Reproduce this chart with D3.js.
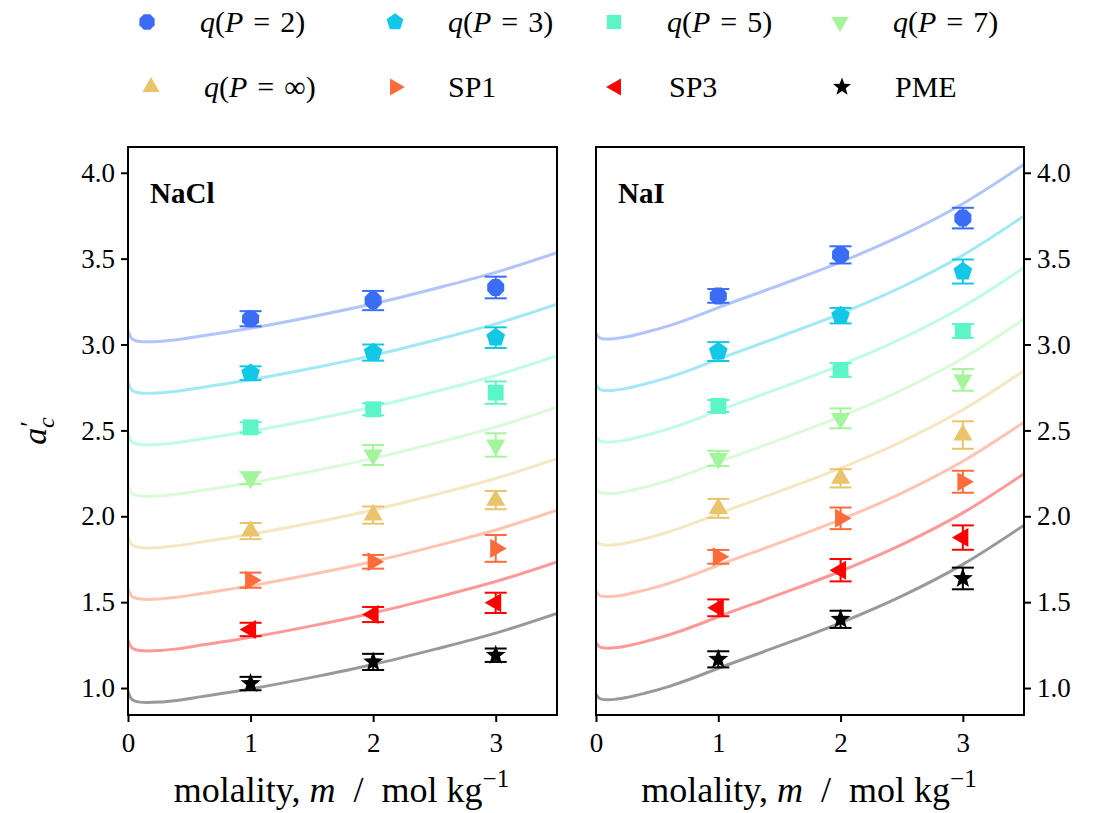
<!DOCTYPE html>
<html>
<head>
<meta charset="utf-8">
<script src="https://cdn.jsdelivr.net/npm/d3@7"></script>
<style>
  body { margin: 0; background: #fff; }
  text { font-family: "Liberation Serif", "DejaVu Serif", serif; fill: #000; }
</style>
</head>
<body>
<script>
//==========================================================//
//  DATA
//==========================================================//

// molalities where the simulated points sit
var molality = [1, 2, 3];

// series names, in legend order
var seriesNames = ["q(P=2)", "q(P=3)", "q(P=5)", "q(P=7)", "q(P=inf)", "SP1", "SP3", "PME"];

// NaCl points (mean, error) per series, at m = 1, 2, 3
var naclMeans = [
    [3.150, 3.256, 3.332],
    [2.833, 2.953, 3.040],
    [2.518, 2.623, 2.720],
    [2.222, 2.357, 2.415],
    [1.914, 2.007, 2.094],
    [1.628, 1.735, 1.813],
    [1.341, 1.428, 1.496],
    [1.026, 1.152, 1.191]
];
var naclErrors = [
    [0.044, 0.056, 0.063],
    [0.040, 0.047, 0.060],
    [0.030, 0.035, 0.065],
    [0.035, 0.058, 0.068],
    [0.047, 0.050, 0.053],
    [0.044, 0.040, 0.078],
    [0.039, 0.044, 0.059],
    [0.039, 0.047, 0.039]
];

// NaI points
var naiMeans = [
    [3.283, 3.522, 3.736],
    [2.959, 3.168, 3.425],
    [2.642, 2.852, 3.079],
    [2.337, 2.570, 2.794],
    [2.046, 2.221, 2.473],
    [1.764, 1.988, 2.201],
    [1.467, 1.686, 1.876],
    [1.167, 1.400, 1.638]
];
var naiErrors = [
    [0.040, 0.050, 0.060],
    [0.055, 0.045, 0.070],
    [0.035, 0.040, 0.040],
    [0.044, 0.058, 0.063],
    [0.055, 0.053, 0.080],
    [0.040, 0.063, 0.064],
    [0.049, 0.065, 0.071],
    [0.047, 0.050, 0.063]
];

// fitted curve (bottom one, PME)
var curveX    = [0, 0.02, 0.05, 0.1, 0.15, 0.25, 0.4, 0.6, 0.8, 1.0, 1.5, 2.0, 2.5, 3.0, 3.5];
var naclCurve = [0.980, 0.945, 0.926, 0.918, 0.916, 0.918, 0.928, 0.950, 0.972, 0.995, 1.062, 1.137, 1.225, 1.320, 1.435];
var naiCurve  = [0.965, 0.945, 0.934, 0.932, 0.934, 0.945, 0.970, 1.010, 1.060, 1.115, 1.245, 1.380, 1.535, 1.720, 1.948];
// each series curve is shifted up by this much
var curveOffsets = [2.1, 1.8, 1.5, 1.2, 0.9, 0.6, 0.3, 0];

var xTicks = [0, 1, 2, 3];
var yTicks = [1.0, 1.5, 2.0, 2.5, 3.0, 3.5, 4.0];

var colors = ["#3b6cf5", "#13c8e6", "#5cf5c8", "#a2f59b", "#e9c46a", "#fd6b3b", "#ff0000", "#000000"];

//==========================================================//
//  SETUP
//==========================================================//

var W = 1094, H = 813;
var plotTop = 147, plotBottom = 715;

var svg = d3.select("body").append("svg")
    .attr("width", W)
    .attr("height", H);

var y = d3.scaleLinear().domain([0.843, 4.15]).range([plotBottom, plotTop]);

// marker shapes
function poly(n, r, rot) {
    var pts = [];
    for (var i = 0; i < n; i++) {
        var a = rot + i * 2 * Math.PI / n;
        pts.push([r * Math.sin(a), -r * Math.cos(a)]);
    }
    return "M" + pts.map(function(p) { return p[0].toFixed(2) + "," + p[1].toFixed(2); }).join("L") + "Z";
}
function star(r) {
    var pts = [];
    for (var i = 0; i < 10; i++) {
        var rr = i % 2 === 0 ? r : r * 0.42;
        var a = i * Math.PI / 5;
        pts.push([rr * Math.sin(a), -rr * Math.cos(a)]);
    }
    return "M" + pts.map(function(p) { return p[0].toFixed(2) + "," + p[1].toFixed(2); }).join("L") + "Z";
}
var shapes = [
    poly(8, 9.2, Math.PI / 8),
    poly(5, 9.8, 0),
    poly(4, 11.2, Math.PI / 4),
    poly(3, 11, Math.PI),
    poly(3, 11, 0),
    poly(3, 11, Math.PI / 2),
    poly(3, 11, -Math.PI / 2),
    star(10.5)
];

//==========================================================//
//  PANELS
//==========================================================//

function drawPanel(x0, x1, label, means, errors, curve, rightAxis) {
    var x = d3.scaleLinear().domain([0, 3.5]).range([x0, x1]);
    var g = svg.append("g");

    var clipId = "clip" + label;
    g.append("clipPath").attr("id", clipId)
        .append("rect").attr("x", x0).attr("y", plotTop).attr("width", x1 - x0).attr("height", plotBottom - plotTop);

    // curves
    var line = d3.line()
        .x(function(d) { return x(d[0]); })
        .y(function(d) { return y(d[1]); })
        .curve(d3.curveMonotoneX);

    curveOffsets.forEach(function(off, i) {
        var pts = curveX.map(function(cx, j) { return [cx, curve[j] + off]; });
        g.append("path")
            .attr("clip-path", "url(#" + clipId + ")")
            .attr("d", line(pts))
            .attr("fill", "none")
            .attr("stroke", colors[i])
            .attr("stroke-opacity", 0.4)
            .attr("stroke-width", 3);
    });

    // error bars + markers
    means.forEach(function(row, i) {
        var pts = row.map(function(v, j) { return { m: molality[j], v: v, e: errors[i][j] }; });
        var eb = g.append("g").attr("stroke", colors[i]).attr("stroke-width", 2);
        eb.selectAll("line.v").data(pts).join("line")
            .attr("x1", function(d) { return x(d.m); })
            .attr("x2", function(d) { return x(d.m); })
            .attr("y1", function(d) { return y(d.v - d.e); })
            .attr("y2", function(d) { return y(d.v + d.e); });
        [-1, 1].forEach(function(s) {
            eb.selectAll("line.c" + (s + 1)).data(pts).join("line")
                .attr("class", "c" + (s + 1))
                .attr("x1", function(d) { return x(d.m) - 11; })
                .attr("x2", function(d) { return x(d.m) + 11; })
                .attr("y1", function(d) { return y(d.v + s * d.e); })
                .attr("y2", function(d) { return y(d.v + s * d.e); });
        });
        g.selectAll("path.mk" + i).data(pts).join("path")
            .attr("class", "mk" + i)
            .attr("d", shapes[i])
            .attr("transform", function(d) { return "translate(" + x(d.m) + "," + y(d.v) + ")"; })
            .attr("fill", colors[i]);
    });

    // frame
    g.append("rect")
        .attr("x", x0).attr("y", plotTop)
        .attr("width", x1 - x0).attr("height", plotBottom - plotTop)
        .attr("fill", "none").attr("stroke", "#000").attr("stroke-width", 2);

    // axes
    var xAxis = g.append("g")
        .attr("transform", "translate(0," + plotBottom + ")")
        .call(d3.axisBottom(x).tickValues(xTicks).tickSize(7).tickPadding(11).tickFormat(d3.format("d")));
    var yAxisGen = rightAxis ? d3.axisRight(y) : d3.axisLeft(y);
    var yAxis = g.append("g")
        .attr("transform", "translate(" + (rightAxis ? x1 : x0) + ",0)")
        .call(yAxisGen.tickValues(yTicks).tickSize(7).tickPadding(6).tickFormat(d3.format(".1f")));
    [xAxis, yAxis].forEach(function(a) {
        a.select(".domain").remove();
        a.selectAll(".tick line").attr("stroke-width", 2);
        a.selectAll(".tick text").style("font-family", "Liberation Serif").style("font-size", "27px");
    });

    // salt label
    g.append("text")
        .attr("x", x0 + 22).attr("y", 203)
        .style("font-size", "29px").style("font-weight", "bold")
        .text(label);

    // x label
    var xl = g.append("text")
        .attr("x", (x0 + x1) / 2 - 1).attr("y", 802)
        .attr("text-anchor", "middle")
        .attr("xml:space", "preserve")
        .style("font-size", "36px");
    xl.append("tspan").text("molality, ");
    xl.append("tspan").style("font-style", "italic").text("m");
    xl.append("tspan").text("  /  mol kg");
    xl.append("tspan").attr("dy", -15).style("font-size", "25px").text("\u22121");
}

drawPanel(128, 557, "NaCl", naclMeans, naclErrors, naclCurve, false);
drawPanel(596, 1024, "NaI", naiMeans, naiErrors, naiCurve, true);

// y label a'_c
var yl = svg.append("text")
    .attr("transform", "translate(46,431) rotate(-90)")
    .attr("text-anchor", "middle")
    .style("font-size", "34px");
yl.append("tspan").style("font-style", "italic").text("a");
yl.append("tspan").attr("dy", -8).attr("dx", 1).style("font-size", "26px").text("\u2032");
yl.append("tspan").attr("dy", 16).attr("dx", -7).style("font-size", "24px").style("font-style", "italic").text("c");

//==========================================================//
//  LEGEND
//==========================================================//

var legendPos = [
    [147, 22], [395, 22], [614, 22], [840, 22],
    [151, 87], [395, 87], [616, 87], [842, 87]
];
var legend = svg.append("g");
seriesNames.forEach(function(name, i) {
    var p = legendPos[i];
    legend.append("path")
        .attr("d", shapes[i])
        .attr("transform", "translate(" + p[0] + "," + p[1] + ") scale(0.9)")
        .attr("fill", colors[i]);
    var t = legend.append("text")
        .attr("x", p[0] + 53).attr("y", p[1] + 10)
        .attr("xml:space", "preserve")
        .style("font-size", "30px");
    if (i < 5) {
        var val = i === 4 ? "\u221E" : name.slice(4, -1);
        t.append("tspan").style("font-style", "italic").text("q");
        t.append("tspan").text("(");
        t.append("tspan").style("font-style", "italic").text("P");
        t.append("tspan").attr("dx", 10).text("=");
        t.append("tspan").attr("dx", 10).text(val);
        t.append("tspan").text(")");
    } else {
        t.text(name);
    }
});
</script>
</body>
</html>
